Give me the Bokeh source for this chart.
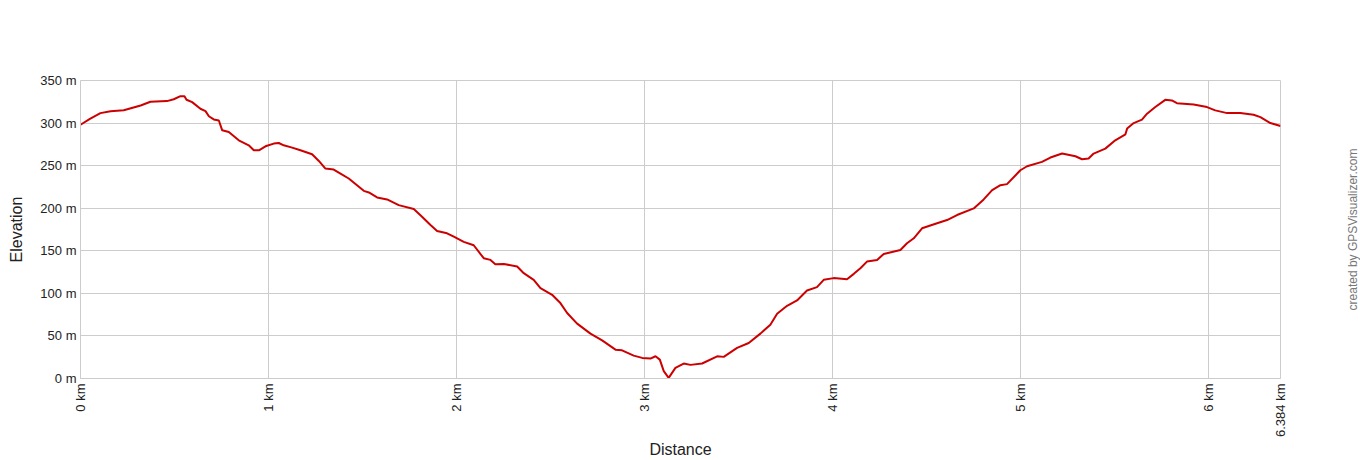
import math
from bokeh.plotting import figure
from bokeh.layouts import row
from bokeh.models import FixedTicker, PrintfTickFormatter, Range1d, Title
from bokeh.embed import file_html
from bokeh.resources import INLINE

distance_km = [0.0, 0.05, 0.106, 0.16, 0.23, 0.32, 0.372, 0.46, 0.496, 0.532, 0.553, 0.564, 0.594,
               0.638, 0.665, 0.683, 0.709, 0.736, 0.754, 0.789, 0.842, 0.895, 0.922, 0.949, 0.984,
               1.028, 1.055, 1.081, 1.126, 1.17, 1.232, 1.268, 1.303, 1.347, 1.383, 1.427, 1.507,
               1.534, 1.578, 1.631, 1.693, 1.773, 1.817, 1.862, 1.897, 1.95, 1.986, 2.039, 2.092,
               2.145, 2.181, 2.207, 2.252, 2.323, 2.358, 2.411, 2.447, 2.509, 2.553, 2.589, 2.642,
               2.713, 2.775, 2.846, 2.881, 2.943, 2.988, 3.032, 3.059, 3.082, 3.103, 3.129, 3.165,
               3.209, 3.245, 3.307, 3.387, 3.422, 3.493, 3.555, 3.617, 3.67, 3.706, 3.759, 3.812,
               3.865, 3.918, 3.954, 4.007, 4.078, 4.114, 4.149, 4.184, 4.238, 4.273, 4.362, 4.397,
               4.433, 4.477, 4.557, 4.61, 4.663, 4.752, 4.805, 4.85, 4.894, 4.929, 5.0, 5.036,
               5.115, 5.16, 5.222, 5.293, 5.328, 5.363, 5.39, 5.452, 5.505, 5.559, 5.568, 5.603,
               5.647, 5.674, 5.718, 5.771, 5.806, 5.833, 5.922, 5.993, 6.037, 6.1, 6.17, 6.241,
               6.277, 6.33, 6.384]

elevation_m = [298, 305, 311.7, 314, 315, 320.7, 325, 325.8, 328, 331.6, 331.6, 327.4, 324.6,
               316.8, 314, 308, 304.3, 303, 291.5, 289.5, 279.8, 273.9, 268, 268, 272.7,
               275.9, 276.6, 273.9, 271.2, 268, 263.4, 255.5, 246.6, 245.4, 240.7, 234.9, 220.4,
               218.5, 212.7, 210.3, 203.6, 199, 190, 180.3, 173.2, 170.5, 166.6, 160.5, 156.5,
               141.3, 139.3, 134.2, 134.6, 131.5, 123.7, 115.9, 106.1, 98.3, 88.6, 76.9, 64.4,
               52.7, 44.8, 33.9, 33.1, 26.9, 24.2, 23.4, 26.1, 22.2, 8.6, 0.8, 12.5,
               17.6, 16, 17.6, 26.1, 25.4, 35.9, 41.7, 52.7, 63.2, 76.1, 85.4, 91.7,
               103.4, 107.3, 115.9, 117.9, 116.6, 122.9, 129.5, 137.3, 139.3, 146.3, 151, 158.8,
               164.7, 176.4, 182.3, 186.1, 192, 199.8, 210.3, 221.2, 227.1, 228.3, 244.6, 249.3,
               254.4, 259.5, 264.2, 261, 257.5, 258.3, 264.2, 270, 279.8, 286.8, 293.5, 300,
               304, 311, 318.8, 327.3, 326.6, 323.4, 321.9, 318.8, 314.9, 311.7, 311.7, 309.8,
               307, 300, 296.5]

x_tick_values = [0, 1, 2, 3, 4, 5, 6, 6.384]
x_tick_labels = ["0 km", "1 km", "2 km", "3 km", "4 km", "5 km", "6 km", "6.384 km"]
y_tick_values = [0, 50, 100, 150, 200, 250, 300, 350]
credit_text = "created by GPSVisualizer.com"

FONT = "Liberation Sans"
GRID = "#cccccc"
TXT = "#222222"

p = figure(width=1330, height=460, output_backend="svg", toolbar_location=None,
           x_range=Range1d(0, 6.384), y_range=Range1d(0, 350),
           min_border_left=80, min_border_right=50, min_border_top=80, min_border_bottom=81)
p.outline_line_color = GRID
p.background_fill_color = "white"
p.border_fill_color = "white"

p.line(distance_km, elevation_m, line_color="#cc0000", line_width=2)

# x axis
xa = p.xaxis[0]
xa.ticker = FixedTicker(ticks=x_tick_values)
xa.major_label_overrides = {v: l for v, l in zip(x_tick_values, x_tick_labels)}
xa.major_label_orientation = math.pi / 2
xa.axis_label = "Distance"
xa.axis_label_text_font = FONT
xa.axis_label_text_font_size = "16px"
xa.axis_label_text_font_style = "normal"
xa.axis_label_text_color = TXT
xa.axis_label_standoff = 1
xa.major_label_text_font = FONT
xa.major_label_text_font_size = "13px"
xa.major_label_text_color = TXT
xa.major_label_standoff = 5
xa.major_tick_out = 0
xa.major_tick_in = 0
xa.minor_tick_out = 0
xa.minor_tick_in = 0
xa.axis_line_color = GRID

# y axis
ya = p.yaxis[0]
ya.ticker = FixedTicker(ticks=y_tick_values)
ya.formatter = PrintfTickFormatter(format="%d m")
ya.axis_label = "Elevation"
ya.axis_label_text_font = FONT
ya.axis_label_text_font_size = "16px"
ya.axis_label_text_font_style = "normal"
ya.axis_label_text_color = TXT
ya.axis_label_standoff = 12
ya.major_label_text_font = FONT
ya.major_label_text_font_size = "13px"
ya.major_label_text_color = TXT
ya.major_label_standoff = 4
ya.major_tick_out = 0
ya.major_tick_in = 0
ya.minor_tick_out = 0
ya.minor_tick_in = 0
ya.axis_line_color = GRID

p.xgrid.ticker = FixedTicker(ticks=x_tick_values)
p.ygrid.ticker = FixedTicker(ticks=y_tick_values)
p.xgrid.grid_line_color = GRID
p.ygrid.grid_line_color = GRID

# narrow companion figure carrying the vertical credit text
c = figure(width=30, height=460, output_backend="svg", toolbar_location=None,
           x_axis_location=None, y_axis_location=None,
           min_border_left=29, min_border_right=0, min_border_top=80, min_border_bottom=81)
c.outline_line_color = None
c.background_fill_color = "white"
c.border_fill_color = "white"
c.xgrid.visible = False
c.ygrid.visible = False
c.add_layout(Title(text=credit_text, align="center", standoff=0, offset=0,
                   text_font=FONT, text_font_size="12px", text_font_style="normal",
                   text_color="#777777"), "left")

layout = row(p, c)
open("out.html", "w").write(file_html(layout, INLINE))
